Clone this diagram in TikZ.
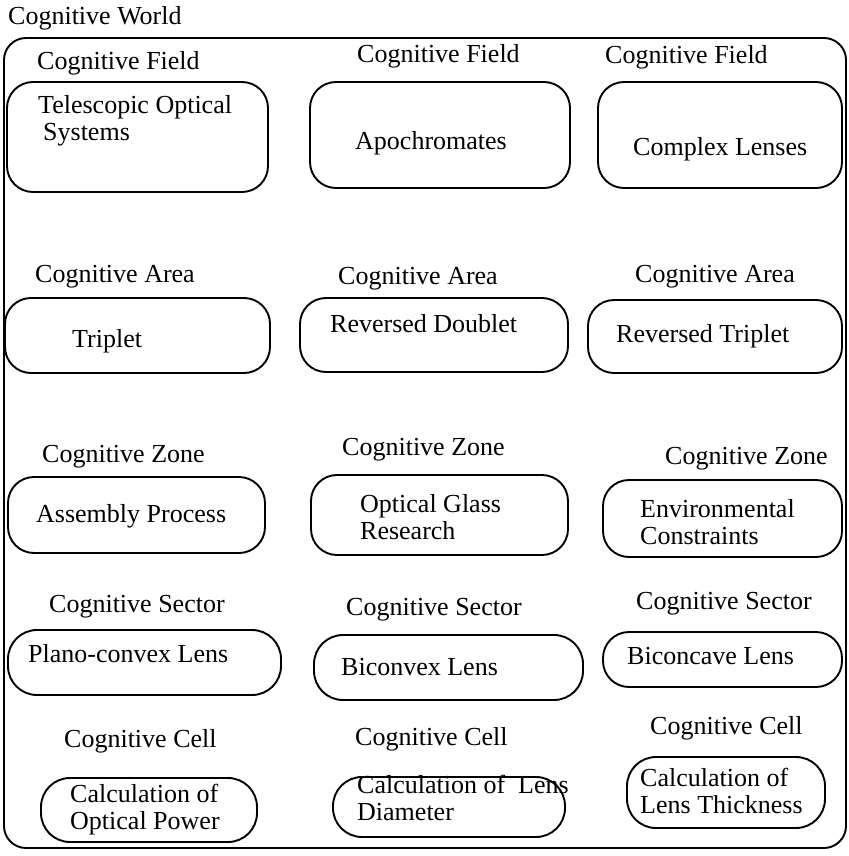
\documentclass[tikz,border=0pt]{standalone}
\usepackage{fontspec}
\setmainfont{Liberation Serif}
\begin{document}
\begin{tikzpicture}[x=1pt,y=-1pt,
  frame/.style={draw, line width=1.9pt, rounded corners=22pt, inner sep=0pt},
  cbox/.style={draw, line width=1.9pt, rounded corners=26pt, inner sep=0pt},
  pill/.style={cbox, rounded corners=29pt},
  lbl/.style={anchor=west, inner sep=0pt, font=\fontsize{26}{27}\selectfont,
    text height=19pt, text depth=5pt},
  txt2/.style={anchor=west, inner sep=0pt, align=left,
    font=\fontsize{26}{27}\selectfont}]
\useasboundingbox (0,0) rectangle (848,856);

% outer world frame
\node[frame, minimum width=842pt, minimum height=810pt] (world) at (425,443) {};
\node[lbl] (worldlbl) at (8,18) {Cognitive World};

% fields
\node[cbox, minimum width=261pt, minimum height=110pt] (f1) at (137.5,137) {};
\node[cbox, minimum width=260pt, minimum height=106pt] (f2) at (440,135) {};
\node[cbox, minimum width=244pt, minimum height=106pt] (f3) at (720,135) {};
\node[lbl] (f1l) at (37,63) {Cognitive Field};
\node[lbl] (f2l) at (357,56) {Cognitive Field};
\node[lbl] (f3l) at (605,57) {Cognitive Field};
\node[txt2] (f1t) at (38,121) {Telescopic Optical\\\hspace*{5pt}Systems};
\node[lbl] (f2t) at (355,142) {Apochromates};
\node[lbl] (f3t) at (633,148) {Complex Lenses};

% areas
\node[cbox, minimum width=265pt, minimum height=75pt] (a1) at (137.5,335.5) {};
\node[cbox, minimum width=268pt, minimum height=74pt] (a2) at (434,335) {};
\node[cbox, minimum width=254pt, minimum height=73pt] (a3) at (715,336.5) {};
\node[lbl] (a1l) at (35,275) {Cognitive Area};
\node[lbl] (a2l) at (338,277) {Cognitive Area};
\node[lbl] (a3l) at (635,275) {Cognitive Area};
\node[lbl] (a1t) at (72,340) {Triplet};
\node[lbl] (a2t) at (330,325) {Reversed Doublet};
\node[lbl] (a3t) at (616,335) {Reversed Triplet};

% zones
\node[cbox, minimum width=257pt, minimum height=76pt] (z1) at (136.5,515) {};
\node[cbox, minimum width=257pt, minimum height=80pt] (z2) at (439.5,515) {};
\node[cbox, minimum width=239pt, minimum height=77pt] (z3) at (722.5,518.5) {};
\node[lbl] (z1l) at (42,455) {Cognitive Zone};
\node[lbl] (z2l) at (342,448) {Cognitive Zone};
\node[lbl] (z3l) at (665,457) {Cognitive Zone};
\node[lbl] (z1t) at (36,515) {Assembly Process};
\node[txt2] (z2t) at (360,517) {Optical Glass\\Research};
\node[txt2] (z3t) at (640,522) {Environmental\\Constraints};

% sectors
\node[pill, minimum width=273pt, minimum height=65pt] (s1) at (144.5,662.5) {};
\node[pill, minimum width=269pt, minimum height=65pt] (s2) at (448.5,667.5) {};
\node[cbox, minimum width=239pt, minimum height=55pt] (s3) at (722.5,659.5) {};
\node[lbl] (s1l) at (49,605) {Cognitive Sector};
\node[lbl] (s2l) at (346,608) {Cognitive Sector};
\node[lbl] (s3l) at (636,602) {Cognitive Sector};
\node[lbl] (s1t) at (28,655) {Plano-convex Lens};
\node[lbl] (s2t) at (341,668) {Biconvex Lens};
\node[lbl] (s3t) at (627,657) {Biconcave Lens};

% cells
\node[pill, minimum width=216pt, minimum height=64pt] (c1) at (149,810) {};
\node[pill, minimum width=232pt, minimum height=60pt] (c2) at (449,807) {};
\node[pill, minimum width=198pt, minimum height=71pt] (c3) at (726,792.5) {};
\node[lbl] (c1l) at (64,740) {Cognitive Cell};
\node[lbl] (c2l) at (355,738) {Cognitive Cell};
\node[lbl] (c3l) at (650,727) {Cognitive Cell};
\node[txt2] (c1t) at (70,810) {Calculation of\\Optical Power};
\node[txt2] (c2t) at (357,798) {Calculation of\ \ Lens\\Diameter};
\node[txt2] (c3t) at (640,791) {Calculation of\\Lens Thickness};
\end{tikzpicture}
\end{document}
